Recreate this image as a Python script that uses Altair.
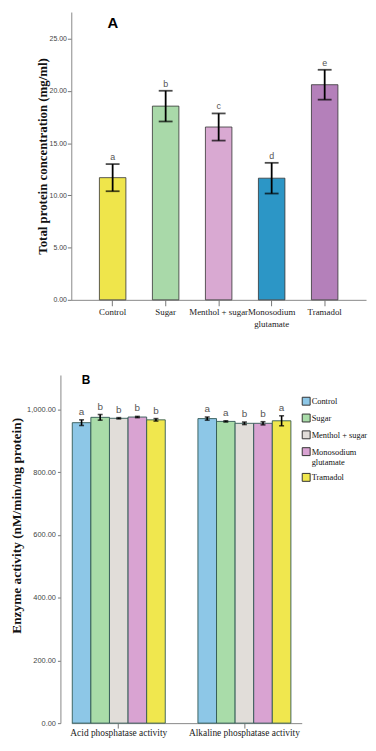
import altair as alt
import pandas as pd

# ---------------- Panel A data ----------------
a_groups = ["Control", "Sugar", "Menthol + sugar", "Monosodium glutamate", "Tramadol"]
a_mean = [11.7, 18.55, 16.55, 11.65, 20.6]
a_err = [1.3, 1.47, 1.3, 1.47, 1.43]
a_letters = ["a", "b", "c", "d", "e"]
a_colors = ["#EFE54B", "#A9D9A9", "#D9A9D2", "#2C96C6", "#B480BA"]
a_panel = ["A"]

# ---------------- Panel B data ----------------
b_assays = ["Acid phosphatase activity", "Alkaline phosphatase activity"]
b_groups = ["Control", "Sugar", "Menthol + sugar", "Monosodium glutamate", "Tramadol"]
b_acid_mean = [958, 975, 972, 976, 967]
b_acid_err = [9, 9, 2, 2, 4]
b_alk_mean = [971, 962, 956, 956, 964]
b_alk_err = [5, 2, 4, 5, 16]
b_acid_letters = ["a", "b", "b", "b", "b"]
b_alk_letters = ["a", "a", "b", "b", "a"]
b_colors = ["#8DC7E7", "#A9DCA9", "#E1DDD9", "#D9A3D2", "#F0E74E"]
b_panel = ["B"]

SERIF = "Liberation Serif"
SANS = "Liberation Sans Narrow, Liberation Sans"
MSG_SPLIT = "datum.label == 'Monosodium glutamate' ? ['Monosodium', 'glutamate'] : datum.label"

# ---------------- Panel A ----------------
dfa = pd.DataFrame({"g": a_groups, "m": a_mean, "e": a_err, "l": a_letters})
dfa["lo"] = dfa["m"] - dfa["e"]
dfa["hi"] = dfa["m"] + dfa["e"]

xa = alt.X(
    "g:N", sort=a_groups,
    scale=alt.Scale(paddingInner=0.5, paddingOuter=0.53),
    axis=alt.Axis(title=None, labelAngle=0, labelFont=SERIF, labelFontSize=9,
                  labelColor="#222", tickSize=6, tickColor="#777", domainColor="#888",
                  labelPadding=2, labelLineHeight=12, labelOverlap=False,
                  labelExpr=MSG_SPLIT),
)
ya_scale = alt.Scale(domain=[0, 27.56], nice=False)
ya_axis = alt.Axis(title="Total protein concentration (mg/ml)", values=[0, 5, 10, 15, 20, 25],
                   format=".2f", grid=False, labelFont=SANS, labelFontSize=7, labelColor="#444",
                   tickSize=4, tickColor="#777", domainColor="#888", labelPadding=1,
                   titleFont=SERIF, titleFontSize=13, titleFontWeight="bold", titleColor="#111",
                   titlePadding=0)

base_a = alt.Chart(dfa).encode(x=xa)
bars_a = base_a.mark_bar(stroke="#333", strokeWidth=0.8).encode(
    y=alt.Y("m:Q", scale=ya_scale, axis=ya_axis),
    color=alt.Color("g:N", sort=a_groups, scale=alt.Scale(domain=a_groups, range=a_colors), legend=None),
)
rule_a = base_a.mark_rule(color="black", strokeWidth=1.8).encode(y="lo:Q", y2="hi:Q")
tlo_a = base_a.mark_tick(color="black", thickness=1.8, size=14).encode(y="lo:Q")
thi_a = base_a.mark_tick(color="black", thickness=1.8, size=14).encode(y="hi:Q")
txt_a = base_a.mark_text(dy=-4, baseline="alphabetic", font=SANS, fontSize=9, color="#555").encode(
    y="hi:Q", text="l:N")
lab_a = alt.Chart(pd.DataFrame({"t": a_panel})).mark_text(
    align="center", baseline="alphabetic", font="Liberation Sans", fontSize=15,
    fontWeight="bold", color="black").encode(text="t:N", x=alt.value(42), y=alt.value(16))

chart_a = alt.layer(bars_a, rule_a, tlo_a, thi_a, txt_a, lab_a).properties(width=298, height=291)

# ---------------- Panel B ----------------
rows = []
for assay, means, errs, lets in [
    (b_assays[0], b_acid_mean, b_acid_err, b_acid_letters),
    (b_assays[1], b_alk_mean, b_alk_err, b_alk_letters),
]:
    for g, m, e, l in zip(b_groups, means, errs, lets):
        rows.append({"assay": assay, "g": g, "m": m, "lo": m - e, "hi": m + e, "l": l})
dfb = pd.DataFrame(rows)

xb = alt.X(
    "assay:N", sort=b_assays,
    scale=alt.Scale(paddingInner=0.26, paddingOuter=0.047, align=0.083),
    axis=alt.Axis(title=None, labelAngle=0, labelFont=SERIF, labelFontSize=9.5,
                  labelColor="#222", tickSize=5, tickColor="#777", domainColor="#888",
                  labelPadding=0, labelOverlap=False),
)
xob = alt.XOffset("g:N", sort=b_groups, scale=alt.Scale(paddingInner=0, paddingOuter=0))
yb_scale = alt.Scale(domain=[0, 1110], nice=False)
yb_axis = alt.Axis(title="Enzyme activity (nM/min/mg protein)", values=[0, 200, 400, 600, 800, 1000],
                   format=",.2f", grid=False, offset=11, labelFont=SANS, labelFontSize=7.5,
                   labelColor="#444", tickSize=3, tickColor="#777", domainColor="#888",
                   labelPadding=2, titleFont=SERIF, titleFontSize=13.5, titleFontWeight="bold",
                   titleColor="#111", titlePadding=3, titleY=152)

base_b = alt.Chart(dfb).encode(x=xb, xOffset=xob)
bars_b = base_b.mark_bar(stroke="#2F5752", strokeWidth=0.9).encode(
    y=alt.Y("m:Q", scale=yb_scale, axis=yb_axis),
    color=alt.Color(
        "g:N", sort=b_groups, scale=alt.Scale(domain=b_groups, range=b_colors),
        legend=alt.Legend(title=None, orient="none", legendX=233, legendY=22, symbolType="square",
                          symbolSize=64, symbolStrokeColor="#333", symbolStrokeWidth=1,
                          labelFont=SERIF, labelFontSize=8.5, labelColor="#111", labelOffset=1,
                          labelLimit=58, rowPadding=4, padding=0, labelExpr=MSG_SPLIT),
    ),
)
rule_b = base_b.mark_rule(color="black", strokeWidth=1.6).encode(y="lo:Q", y2="hi:Q")
tlo_b = base_b.mark_tick(color="black", thickness=1.6, size=5).encode(y="lo:Q")
thi_b = base_b.mark_tick(color="black", thickness=1.6, size=5).encode(y="hi:Q")
txt_b = base_b.mark_text(dy=-5, baseline="alphabetic", font=SANS, fontSize=10, color="#555").encode(
    y="hi:Q", text="l:N")
lab_b = alt.Chart(pd.DataFrame({"t": b_panel})).mark_text(
    align="center", baseline="alphabetic", font="Liberation Sans", fontSize=12,
    fontWeight="bold", color="black").encode(text="t:N", x=alt.value(15), y=alt.value(9))

chart_b = alt.layer(bars_b, rule_b, tlo_b, thi_b, txt_b, lab_b).properties(width=233, height=352)

chart = (
    alt.vconcat(chart_a, chart_b, spacing=76, bounds="flush")
    .resolve_scale(color="independent")
    .properties(padding={"left": 1, "top": 0, "right": 0, "bottom": 0}, background="white")
    .configure_view(stroke=None)
)

chart.save("out.html", embed_options={"renderer": "svg", "actions": False})
